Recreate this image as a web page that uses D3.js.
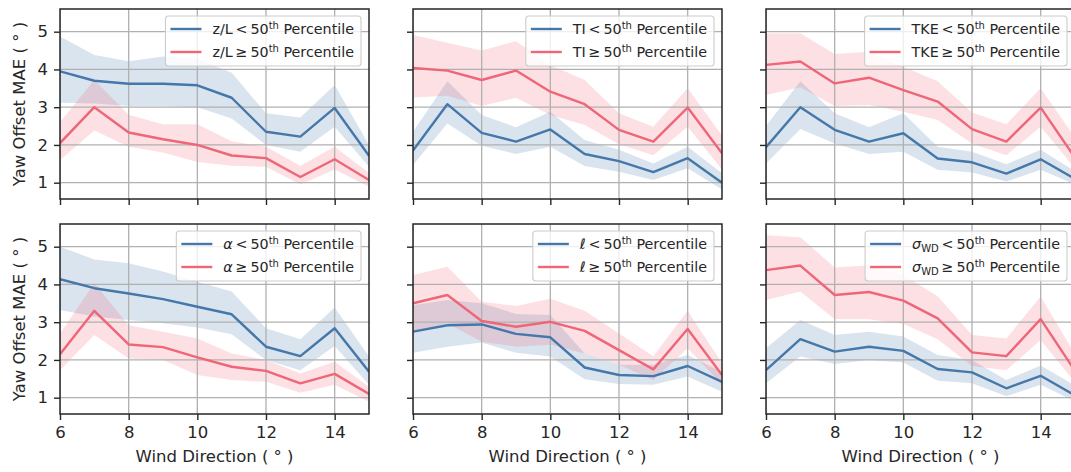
<!DOCTYPE html>
<html><head><meta charset="utf-8">
<script src="https://cdn.jsdelivr.net/npm/d3@7"></script>
<style>
body{margin:0;background:#fff;overflow:hidden}
text{font-family:"DejaVu Sans",sans-serif}
</style>
</head><body>
<svg id="c" width="1071" height="472"></svg>
<script>
// ---------------- data ----------------
const windDir = [6, 7, 8, 9, 10, 11, 12, 13, 14, 15];
const xTicks = [6, 8, 10, 12, 14];
const yTicks = [1, 2, 3, 4, 5];

const paramNames = ["z/L", "TI", "TKE", "\u03B1", "\u2113", "\u03C3"];
const paramItalic = [false, false, false, true, true, true];
const paramSub = ["", "", "", "", "", "WD"];

// below / above 50th percentile (mean, upper, lower)
const zL_low     = [3.95, 3.70, 3.62, 3.62, 3.58, 3.25, 2.35, 2.22, 2.98, 1.71];
const zL_low_up  = [4.87, 4.38, 4.22, 4.34, 4.28, 3.91, 2.84, 2.73, 3.59, 2.00];
const zL_low_lo  = [3.12, 3.10, 3.03, 3.03, 3.00, 2.70, 2.00, 1.82, 2.48, 1.42];
const zL_high    = [2.05, 3.00, 2.33, 2.15, 2.00, 1.72, 1.65, 1.15, 1.62, 1.07];
const zL_high_up = [2.60, 3.72, 2.80, 2.55, 2.55, 2.10, 1.95, 1.45, 1.95, 1.26];
const zL_high_lo = [1.60, 2.38, 1.95, 1.80, 1.55, 1.45, 1.42, 0.95, 1.35, 0.89];

const TI_low     = [1.85, 3.08, 2.32, 2.09, 2.41, 1.76, 1.57, 1.28, 1.65, 1.00];
const TI_low_up  = [2.35, 3.69, 2.79, 2.47, 2.88, 2.13, 1.87, 1.51, 1.95, 1.25];
const TI_low_lo  = [1.47, 2.57, 1.98, 1.76, 1.95, 1.44, 1.29, 1.07, 1.38, 0.82];
const TI_high    = [4.04, 3.97, 3.72, 3.97, 3.41, 3.08, 2.40, 2.09, 2.99, 1.78];
const TI_high_up = [4.91, 4.71, 4.50, 4.75, 4.12, 3.72, 2.84, 2.48, 3.50, 2.25];
const TI_high_lo = [3.26, 3.30, 3.03, 3.25, 2.79, 2.53, 2.02, 1.73, 2.48, 1.35];

const TKE_low     = [1.94, 3.00, 2.40, 2.09, 2.31, 1.64, 1.54, 1.24, 1.62, 1.10];
const TKE_low_up  = [2.50, 3.69, 2.84, 2.47, 2.84, 1.95, 1.82, 1.49, 1.87, 1.30];
const TKE_low_lo  = [1.51, 2.42, 2.04, 1.76, 1.82, 1.34, 1.27, 1.03, 1.34, 0.95];
const TKE_high    = [4.12, 4.21, 3.63, 3.78, 3.45, 3.15, 2.42, 2.09, 2.99, 1.66];
const TKE_high_up = [4.96, 4.96, 4.41, 4.47, 4.07, 3.69, 2.86, 2.55, 3.50, 2.20];
const TKE_high_lo = [3.32, 3.53, 3.03, 3.06, 2.88, 2.66, 2.04, 1.73, 2.48, 1.38];

const alpha_low     = [4.14, 3.90, 3.76, 3.61, 3.41, 3.21, 2.35, 2.10, 2.84, 1.69];
const alpha_low_up  = [5.00, 4.66, 4.56, 4.34, 4.07, 3.81, 2.84, 2.55, 3.39, 2.09];
const alpha_low_lo  = [3.32, 3.15, 3.06, 2.97, 2.86, 2.68, 2.00, 1.73, 2.37, 1.34];
const alpha_high    = [2.15, 3.30, 2.41, 2.34, 2.07, 1.82, 1.71, 1.38, 1.63, 1.10];
const alpha_high_up = [2.70, 4.03, 2.92, 2.75, 2.57, 2.17, 2.00, 1.64, 1.95, 1.29];
const alpha_high_lo = [1.73, 2.66, 2.04, 2.00, 1.60, 1.47, 1.42, 1.13, 1.34, 0.89];

const ell_low     = [2.75, 2.92, 2.94, 2.69, 2.60, 1.80, 1.60, 1.57, 1.84, 1.42];
const ell_low_up  = [3.45, 3.59, 3.50, 3.22, 3.19, 2.17, 1.87, 1.87, 2.13, 1.69];
const ell_low_lo  = [2.19, 2.35, 2.46, 2.19, 2.09, 1.49, 1.36, 1.34, 1.56, 1.16];
const ell_high    = [3.50, 3.72, 3.03, 2.88, 3.01, 2.77, 2.26, 1.75, 2.82, 1.60];
const ell_high_up = [4.25, 4.47, 3.54, 3.43, 3.62, 3.30, 2.70, 2.10, 3.30, 1.91];
const ell_high_lo = [2.75, 2.97, 2.48, 2.35, 2.40, 2.17, 1.87, 1.47, 2.31, 1.34];

const sigma_low     = [1.73, 2.55, 2.22, 2.35, 2.24, 1.76, 1.67, 1.25, 1.58, 1.06];
const sigma_low_up  = [2.31, 3.06, 2.66, 2.75, 2.62, 2.13, 2.00, 1.47, 1.85, 1.32];
const sigma_low_lo  = [1.38, 2.09, 1.89, 2.00, 1.93, 1.45, 1.38, 1.04, 1.34, 0.90];
const sigma_high    = [4.38, 4.50, 3.72, 3.80, 3.57, 3.10, 2.20, 2.10, 3.08, 1.71];
const sigma_high_up = [5.30, 5.25, 4.45, 4.51, 4.25, 3.69, 2.66, 2.57, 3.68, 2.15];
const sigma_high_lo = [3.59, 3.81, 3.08, 3.08, 2.95, 2.55, 1.84, 1.73, 2.53, 1.40];

const panels = [
  [zL_low, zL_low_up, zL_low_lo, zL_high, zL_high_up, zL_high_lo],
  [TI_low, TI_low_up, TI_low_lo, TI_high, TI_high_up, TI_high_lo],
  [TKE_low, TKE_low_up, TKE_low_lo, TKE_high, TKE_high_up, TKE_high_lo],
  [alpha_low, alpha_low_up, alpha_low_lo, alpha_high, alpha_high_up, alpha_high_lo],
  [ell_low, ell_low_up, ell_low_lo, ell_high, ell_high_up, ell_high_lo],
  [sigma_low, sigma_low_up, sigma_low_lo, sigma_high, sigma_high_up, sigma_high_lo]
];

// ---------------- layout ----------------
const BLUE = "#4477AA", RED = "#EE6677";
const colX = [60, 413, 766], rowY = [9, 224];
const W = 309, H = 190;

const svg = d3.select("#c");
const x = d3.scaleLinear().domain([6, 15]).range([0, W]);
const y = d3.scaleLinear().domain([0.568, 5.601]).range([H, 0]);

panels.forEach((p, i) => {
  const col = i % 3, row = Math.floor(i / 3);
  const g = svg.append("g").attr("transform", `translate(${colX[col]},${rowY[row]})`);
  const clipId = "clip" + i;
  g.append("clipPath").attr("id", clipId).append("rect").attr("width", W).attr("height", H);
  const plot = g.append("g").attr("clip-path", `url(#${clipId})`);

  const pts = k => windDir.map((d, j) => ({x: d, v: p[k][j], up: p[k + 1][j], lo: p[k + 2][j]}));
  const low = pts(0), high = pts(3);
  const area = d3.area().x(d => x(d.x)).y0(d => y(d.lo)).y1(d => y(d.up));
  const line = d3.line().x(d => x(d.x)).y(d => y(d.v));

  plot.append("path").attr("d", area(low)).attr("fill", BLUE).attr("fill-opacity", 0.2);
  plot.append("path").attr("d", area(high)).attr("fill", RED).attr("fill-opacity", 0.2);

  // grid
  plot.selectAll(".gx").data(xTicks).enter().append("line")
    .attr("x1", d => x(d)).attr("x2", d => x(d)).attr("y1", 0).attr("y2", H)
    .attr("stroke", "#b0b0b0").attr("stroke-width", 1.3);
  plot.selectAll(".gy").data(yTicks).enter().append("line")
    .attr("y1", d => y(d)).attr("y2", d => y(d)).attr("x1", 0).attr("x2", W)
    .attr("stroke", "#b0b0b0").attr("stroke-width", 1.3);

  plot.append("path").attr("d", line(low)).attr("fill", "none").attr("stroke", BLUE)
    .attr("stroke-width", 2.4).attr("stroke-linejoin", "round");
  plot.append("path").attr("d", line(high)).attr("fill", "none").attr("stroke", RED)
    .attr("stroke-width", 2.4).attr("stroke-linejoin", "round");

  // axes
  const ya = d3.axisLeft(y).tickValues(yTicks).tickSize(6).tickPadding(6)
    .tickFormat(col === 0 ? d3.format("d") : "");
  const yg = g.append("g").call(ya);
  const xa = d3.axisBottom(x).tickValues(xTicks).tickSize(6).tickPadding(6)
    .tickFormat(row === 1 ? d3.format("d") : "");
  const xg = g.append("g").attr("transform", `translate(0,${H})`).call(xa);
  [yg, xg].forEach(a => {
    a.select(".domain").remove();
    a.attr("font-family", "DejaVu Sans").attr("font-size", 16.5);
    a.selectAll("line").attr("stroke", "#262626").attr("stroke-width", 1.4);
    a.selectAll("text").attr("fill", "#262626").attr("font-size", 16.5);
  });

  // spines
  g.append("rect").attr("width", W).attr("height", H).attr("fill", "none")
    .attr("stroke", "#262626").attr("stroke-width", 1.5);

  // legend
  const leg = g.append("g");
  const rows = [13, 36];
  const box = leg.append("rect");
  const texts = [];
  [["<", BLUE], ["\u2265", RED]].forEach((r, k) => {
    const cy = 7 + rows[k];
    const t = leg.append("text").attr("y", cy + 5).attr("fill", "#262626").attr("font-size", 14.3);
    const nm = t.append("tspan").text(paramNames[i]);
    if (paramItalic[i]) nm.attr("font-style", "italic");
    if (paramSub[i]) {
      t.append("tspan").text(paramSub[i]).attr("font-size", 10).attr("dy", 3);
      t.append("tspan").text("\u2009" + r[0] + "\u200950").attr("dy", -3);
    } else {
      t.append("tspan").text("\u2009" + r[0] + "\u200950");
    }
    t.append("tspan").text("th").attr("font-size", 10).attr("dy", -5);
    t.append("tspan").text(" Percentile").attr("dy", 5);
    texts.push(t);
    leg.append("line").attr("y1", cy).attr("y2", cy)
      .attr("stroke", r[1]).attr("stroke-width", 2.4);
  });
  const tw = d3.max(texts, t => t.node().getComputedTextLength());
  const bw = 47 + tw + 7;
  const bx = W - 8 - bw;
  box.attr("x", bx).attr("y", 7).attr("width", bw).attr("height", 50)
    .attr("rx", 3).attr("fill", "#fff").attr("fill-opacity", 0.8)
    .attr("stroke", "#cccccc").attr("stroke-width", 1.1);
  texts.forEach(t => t.attr("x", bx + 47));
  leg.selectAll("line").attr("x1", bx + 5).attr("x2", bx + 36);
});

// axis labels
rowY.forEach(r => {
  svg.append("text").attr("transform", `translate(19,${r + H / 2}) rotate(-90)`)
    .attr("text-anchor", "middle").attr("dominant-baseline", "central")
    .attr("fill", "#262626").attr("font-size", 16.5).text("Yaw Offset MAE ( \u00B0 )");
});
colX.forEach(c => {
  svg.append("text").attr("x", c + W / 2).attr("y", 462).attr("text-anchor", "middle")
    .attr("fill", "#262626").attr("font-size", 16.5).text("Wind Direction ( \u00B0 )");
});
</script>
</body></html>
